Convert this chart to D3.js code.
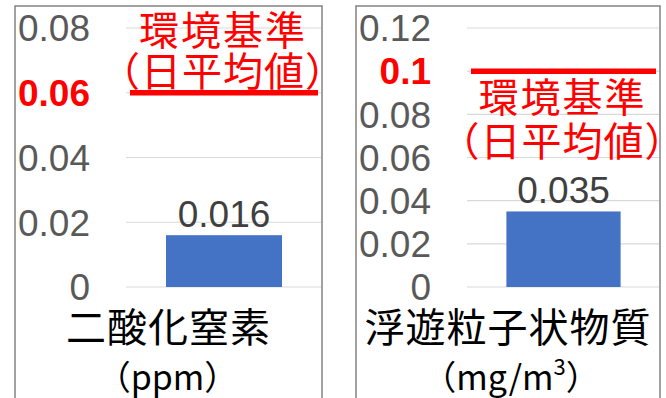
<!DOCTYPE html>
<html>
<head>
<meta charset="utf-8">
<script src="https://cdn.jsdelivr.net/npm/d3@7"></script>
<style>
  html, body { margin: 0; padding: 0; background: #fff; }
  svg { display: block; }
</style>
</head>
<body>
<svg id="chart" width="666" height="398"></svg>
<script>
// Annual mean concentrations vs. environmental standard (daily mean)
const categories = ["二酸化窒素", "浮遊粒子状物質"];
const unitMain = ["（ppm）", "（mg/m"];
const unitSup = ["", "3"];
const unitTail = ["", "）"];
const values = [0.016, 0.035];
const valueLabels = ["0.016", "0.035"];
const standards = [0.06, 0.1];
const yMax = [0.08, 0.12];
const tickValues = [
  [0, 0.02, 0.04, 0.06, 0.08],
  [0, 0.02, 0.04, 0.06, 0.08, 0.1, 0.12]
];
const tickLabels = [
  ["0", "0.02", "0.04", "0.06", "0.08"],
  ["0", "0.02", "0.04", "0.06", "0.08", "0.1", "0.12"]
];
const standardTitle = ["環境基準", "（日平均値）"];

const svg = d3.select("#chart");
const NUM_FONT = "'Liberation Sans', Arial, sans-serif";
const JP_FONT = "'Noto Sans CJK JP', 'Noto Sans', sans-serif";

// panel frames and plot areas
const panels = [
  { left: 15, right: 322, plotLeft: 126, plotRight: 322, above: true },
  { left: 356, right: 660, plotLeft: 467, plotRight: 660, above: false }
];
const plotTop = 28, plotBottom = 287;

panels.forEach((p, i) => {
  const g = svg.append("g");

  const y = d3.scaleLinear().domain([0, yMax[i]]).range([plotBottom, plotTop]);
  const x = d3.scaleBand().domain([categories[i]])
    .range([p.plotLeft, p.plotRight])
    .paddingInner(0).paddingOuter(0.345);

  // frame
  g.append("rect")
    .attr("x", p.left).attr("y", 6)
    .attr("width", p.right - p.left).attr("height", 420)
    .attr("fill", "none").attr("stroke", "#8a8a8a").attr("stroke-width", 1.6);

  // gridlines
  g.selectAll(".grid").data(tickValues[i]).join("line")
    .attr("x1", p.plotLeft).attr("x2", p.plotRight - 1)
    .attr("y1", d => y(d)).attr("y2", d => y(d))
    .attr("stroke", "#d9d9d9").attr("stroke-width", 1.2);

  // tick labels
  const std = standards[i];
  g.selectAll(".tick").data(tickValues[i]).join("text")
    .attr("x", p.plotLeft - 36)
    .attr("y", d => y(d))
    .attr("dy", "0.36em")
    .attr("text-anchor", "end")
    .attr("font-family", NUM_FONT)
    .attr("font-size", 37)
    .attr("font-weight", d => Math.abs(d - std) < 1e-9 ? "bold" : "normal")
    .attr("fill", d => Math.abs(d - std) < 1e-9 ? "#ff0000" : "#595959")
    .text((d, k) => tickLabels[i][k]);

  // bar
  g.append("rect")
    .attr("x", x(categories[i]))
    .attr("y", y(values[i]))
    .attr("width", x.bandwidth())
    .attr("height", y(0) - y(values[i]))
    .attr("fill", "#4472c4");

  // data label
  g.append("text")
    .attr("x", x(categories[i]) + x.bandwidth() / 2)
    .attr("y", y(values[i]) - 8)
    .attr("text-anchor", "middle")
    .attr("font-family", NUM_FONT)
    .attr("font-size", 37)
    .attr("fill", "#404040")
    .text(valueLabels[i]);

  // environmental standard line
  g.append("line")
    .attr("x1", p.plotLeft + 4).attr("x2", p.plotRight - 4)
    .attr("y1", y(std)).attr("y2", y(std))
    .attr("stroke", "#ff0000").attr("stroke-width", 5.5);

  // standard caption
  const cx = (p.plotLeft + p.plotRight) / 2 - 1;
  const lineY = p.above
    ? [y(std) - 62, y(std) - 21]
    : [y(std) + 26, y(std) + 70];
  standardTitle.forEach((t, k) => {
    g.append("text")
      .attr("x", cx).attr("y", lineY[k])
      .attr("dy", "0.36em")
      .attr("text-anchor", "middle")
      .attr("font-family", JP_FONT)
      .attr("font-size", 40)
      .attr("letter-spacing", k === 0 ? 2 : 1)
      .attr("fill", "#ff0000")
      .text(t);
  });

  // category label and unit
  const mid = (p.left + p.right) / 2;
  g.append("text")
    .attr("x", mid).attr("y", 328)
    .attr("dy", "0.36em")
    .attr("text-anchor", "middle")
    .attr("font-family", JP_FONT)
    .attr("font-size", 40)
    .attr("letter-spacing", 1)
    .attr("fill", "#000")
    .text(categories[i]);

  const u = g.append("text")
    .attr("x", mid + (i === 1 ? 3 : -1)).attr("y", 378)
    .attr("dy", "0.36em")
    .attr("text-anchor", "middle")
    .attr("font-family", JP_FONT)
    .attr("font-size", 34)
    .attr("fill", "#000");
  u.append("tspan").text(unitMain[i]);
  if (unitSup[i]) {
    u.append("tspan").attr("font-size", 22).attr("dy", "-0.7em").text(unitSup[i]);
    u.append("tspan").attr("dy", "0.45em").text(unitTail[i]);
  }
});
</script>
</body>
</html>
